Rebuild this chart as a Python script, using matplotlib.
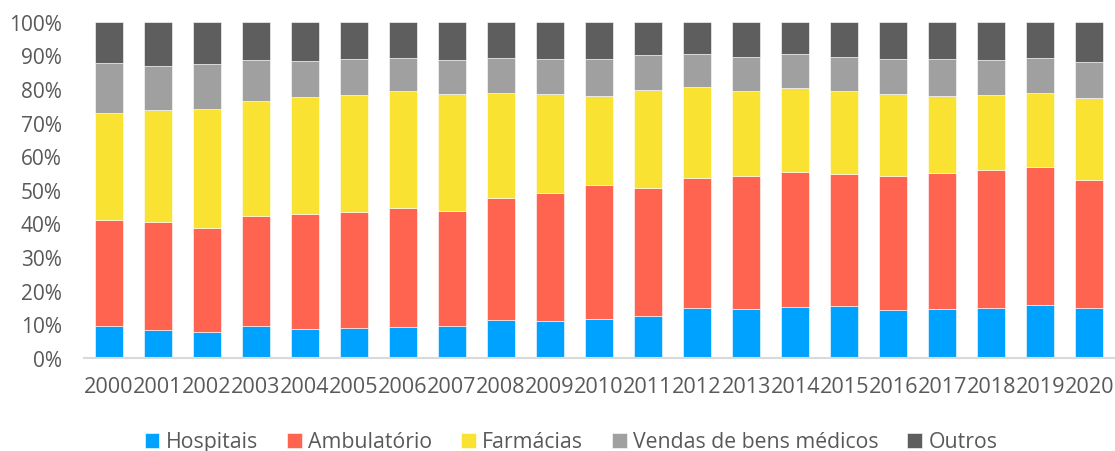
import matplotlib
matplotlib.use("Agg")
import matplotlib.pyplot as plt
import numpy as np

plt.rcParams["font.family"] = ["Open Sans", "DejaVu Sans"]

years = [str(y) for y in range(2000, 2021)]

# shares (%) per year
hospitais = [9.6, 8.3, 7.8, 9.6, 8.7, 8.8, 9.1, 9.4, 11.2, 11.1, 11.5,
             12.4, 15.0, 14.6, 15.1, 15.4, 14.4, 14.6, 14.8, 15.7, 14.8]
ambulatorio = [31.4, 32.2, 30.9, 32.5, 34.1, 34.7, 35.4, 34.3, 36.5, 37.9, 39.8,
               38.2, 38.6, 39.6, 40.3, 39.2, 39.8, 40.4, 41.2, 41.2, 38.2]
farmacias = [31.8, 33.1, 35.3, 34.4, 34.8, 34.8, 34.9, 34.7, 31.0, 29.4, 26.6,
             29.2, 27.0, 25.3, 24.9, 24.8, 24.4, 23.0, 22.2, 21.8, 24.3]
vendas = [14.8, 13.3, 13.4, 12.0, 10.6, 10.6, 9.8, 10.1, 10.4, 10.5, 11.0,
          10.2, 9.8, 10.0, 10.1, 10.2, 10.3, 10.9, 10.4, 10.4, 10.6]
outros = [12.4, 13.1, 12.6, 11.5, 11.8, 11.1, 10.8, 11.5, 10.9, 11.1, 11.1,
          10.0, 9.6, 10.5, 9.6, 10.4, 11.1, 11.1, 11.4, 10.9, 12.1]

series = [
    ("Hospitais", hospitais, "#00A2FF"),
    ("Ambulatório", ambulatorio, "#FF6450"),
    ("Farmácias", farmacias, "#F9E231"),
    ("Vendas de bens médicos", vendas, "#A0A0A0"),
    ("Outros", outros, "#5E5E5E"),
]

txt = "#595959"

fig = plt.figure(figsize=(11.15, 4.52), dpi=100)
ax = fig.add_axes([84 / 1115, 1 - 359 / 452, 1030 / 1115, (359 - 22.7) / 452])

x = np.arange(len(years))
data = np.array([s[1] for s in series])
data = data / data.sum(axis=0)  # normalise each year to 100%
bottom = np.zeros(len(years))
for (name, _, col), vals in zip(series, data):
    ax.bar(x, vals, 0.57, bottom=bottom, color=col, label=name,
           edgecolor="#ffffff", linewidth=0.4)
    bottom += vals

ax.set_xlim(-0.5, len(years) - 0.5)
ax.set_ylim(0, 1)
ax.set_yticks(np.arange(0, 1.01, 0.1))
ax.set_yticklabels([f"{int(round(v * 100))}%" for v in np.arange(0, 1.01, 0.1)])
ax.set_xticks(x)
ax.set_xticklabels(years)
ax.tick_params(axis="y", length=0, pad=16, labelsize=15, labelcolor=txt)
ax.tick_params(axis="x", length=0, pad=13, labelsize=15.6, labelcolor=txt)
for s in ["top", "right", "left"]:
    ax.spines[s].set_visible(False)
ax.spines["bottom"].set_color("#D9D9D9")
ax.spines["bottom"].set_linewidth(1.5)

fig.legend(loc="center", bbox_to_anchor=(571 / 1115, 1 - 443 / 452), ncol=5,
           frameon=False, fontsize=15.3, labelcolor=txt, handlelength=0.7,
           handleheight=0.7, handletextpad=0.3, columnspacing=1.35,
           borderpad=0, borderaxespad=0)

fig.savefig("out.png", dpi=100)
